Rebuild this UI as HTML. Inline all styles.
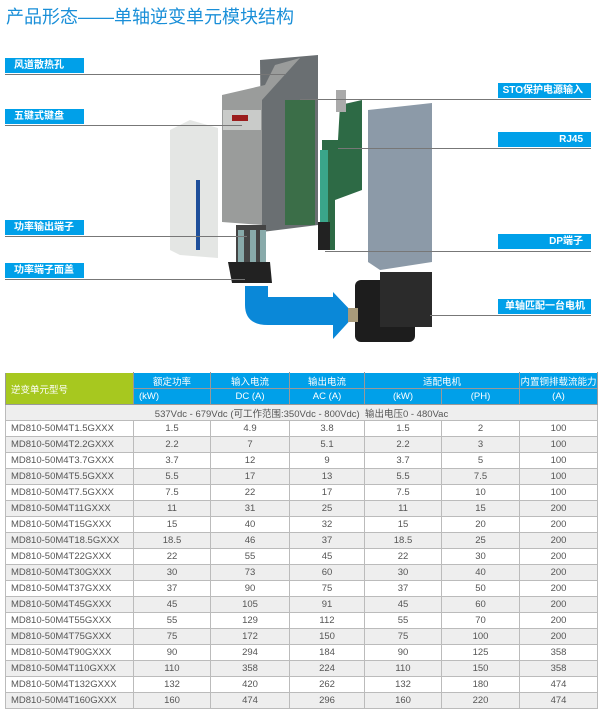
<!DOCTYPE html>
<html><head><meta charset="utf-8"><style>
body{margin:0;width:601px;height:715px;background:#fff;overflow:hidden;position:relative;font-family:"Liberation Sans","Noto Sans CJK SC",sans-serif}
.t{position:absolute;left:6px;top:3px;font-size:18px;color:#1a8fd8;letter-spacing:0px}
.lb{position:absolute;height:15px;background:#00a0e9;color:#fff;font-size:10px;line-height:15px;font-weight:bold}
.ln{position:absolute;height:1px;background:#777}
table{position:absolute;left:5px;top:372px;border-collapse:collapse;font-size:9.5px;color:#555;table-layout:fixed}
td{border:1px solid #bbb;height:15px;padding:0;text-align:center;white-space:nowrap;overflow:hidden}
td:first-child{text-align:left;padding-left:5px}
tr.h td{background:#00a0e9;color:#fff;border-color:#fff #999 #999 #999;height:15px}
tr.g td{background:#eee}
</style></head><body>
<div class="t">产品形态——单轴逆变单元模块结构</div>
<svg width="601" height="360" style="position:absolute;left:0;top:0">
<path d="M245 286 H268 V297 H333 V292 L355 315 L333 339 V325 H268 Q245 325 245 305 Z" fill="#0a88d8"/>
<polygon points="368,110 432,103 432,262 380,270 368,262" fill="#8c9aa8"/>
<polygon points="322,140 338,140 340,105 362,100 362,190 335,200 335,250 322,250" fill="#2d6a45"/>
<rect x="320" y="150" width="8" height="90" fill="#3aa58a"/>
<rect x="318" y="222" width="12" height="28" fill="#222"/>
<rect x="336" y="90" width="10" height="22" fill="#aaa"/>
<polygon points="260,60 318,55 318,225 262,232" fill="#6a6f72"/>
<rect x="285" y="100" width="30" height="125" fill="#3b6e48"/>
<polygon points="222,95 265,85 275,65 300,58 262,100 262,225 222,222" fill="#9a9c9b"/>
<rect x="223" y="110" width="38" height="20" fill="#c9cbc9"/>
<rect x="232" y="115" width="16" height="6" fill="#9b1d1d"/>
<polygon points="170,130 190,120 218,128 218,258 180,255 170,250" fill="#e4e6e4"/>
<rect x="196" y="180" width="4" height="70" fill="#1e4f9a"/>
<rect x="236" y="225" width="30" height="40" fill="#444"/>
<rect x="238" y="230" width="6" height="35" fill="#8aa"/><rect x="250" y="230" width="6" height="35" fill="#8aa"/><rect x="260" y="230" width="6" height="35" fill="#8aa"/>
<polygon points="228,262 270,262 272,283 232,283" fill="#222"/>
<rect x="355" y="280" width="60" height="62" rx="6" fill="#1d1d1d"/>
<rect x="380" y="272" width="52" height="55" fill="#2b2b2b"/>
<rect x="348" y="308" width="10" height="14" fill="#a89a7a"/>
</svg>
<div class="lb" style="left:5px;top:58px;width:79px;padding-left:9px;box-sizing:border-box">风道散热孔</div>
<div class="ln" style="left:5px;top:74px;width:280px"></div>
<div class="lb" style="left:5px;top:109px;width:79px;padding-left:9px;box-sizing:border-box">五键式键盘</div>
<div class="ln" style="left:5px;top:125px;width:237px"></div>
<div class="lb" style="left:5px;top:220px;width:79px;padding-left:9px;box-sizing:border-box">功率输出端子</div>
<div class="ln" style="left:5px;top:236px;width:242px"></div>
<div class="lb" style="left:5px;top:263px;width:79px;padding-left:9px;box-sizing:border-box">功率端子面盖</div>
<div class="ln" style="left:5px;top:279px;width:240px"></div>
<div class="lb" style="left:498px;top:83px;width:93px;text-align:right;padding-right:8px;box-sizing:border-box">STO保护电源输入</div>
<div class="ln" style="left:300px;top:99px;width:291px"></div>
<div class="lb" style="left:498px;top:132px;width:93px;text-align:right;padding-right:8px;box-sizing:border-box">RJ45</div>
<div class="ln" style="left:338px;top:148px;width:253px"></div>
<div class="lb" style="left:498px;top:234px;width:93px;text-align:right;padding-right:8px;box-sizing:border-box">DP端子</div>
<div class="ln" style="left:325px;top:251px;width:266px"></div>
<div class="lb" style="left:498px;top:299px;width:93px;text-align:right;padding-right:6px;box-sizing:border-box">单轴匹配一台电机</div>
<div class="ln" style="left:430px;top:315px;width:161px"></div>
<table>
<colgroup><col style="width:128px"><col style="width:77px"><col style="width:79px"><col style="width:75px"><col style="width:77px"><col style="width:78px"><col style="width:78px"></colgroup>
<tr class="h"><td rowspan="2" style="background:#a7c81f;vertical-align:middle">逆变单元型号</td><td>额定功率</td><td>输入电流</td><td>输出电流</td><td colspan="2">适配电机</td><td>内置铜排载流能力</td></tr>
<tr class="h"><td>(kW)</td><td>DC (A)</td><td>AC (A)</td><td>(kW)</td><td>(PH)</td><td>(A)</td></tr>
<tr class="g"><td colspan="7" style="text-align:center;padding:0">537Vdc - 679Vdc (可工作范围:350Vdc - 800Vdc)&nbsp;&nbsp;输出电压0 - 480Vac</td></tr>
<tr><td>MD810-50M4T1.5GXXX</td><td>1.5</td><td>4.9</td><td>3.8</td><td>1.5</td><td>2</td><td>100</td></tr>
<tr class="g"><td>MD810-50M4T2.2GXXX</td><td>2.2</td><td>7</td><td>5.1</td><td>2.2</td><td>3</td><td>100</td></tr>
<tr><td>MD810-50M4T3.7GXXX</td><td>3.7</td><td>12</td><td>9</td><td>3.7</td><td>5</td><td>100</td></tr>
<tr class="g"><td>MD810-50M4T5.5GXXX</td><td>5.5</td><td>17</td><td>13</td><td>5.5</td><td>7.5</td><td>100</td></tr>
<tr><td>MD810-50M4T7.5GXXX</td><td>7.5</td><td>22</td><td>17</td><td>7.5</td><td>10</td><td>100</td></tr>
<tr class="g"><td>MD810-50M4T11GXXX</td><td>11</td><td>31</td><td>25</td><td>11</td><td>15</td><td>200</td></tr>
<tr><td>MD810-50M4T15GXXX</td><td>15</td><td>40</td><td>32</td><td>15</td><td>20</td><td>200</td></tr>
<tr class="g"><td>MD810-50M4T18.5GXXX</td><td>18.5</td><td>46</td><td>37</td><td>18.5</td><td>25</td><td>200</td></tr>
<tr><td>MD810-50M4T22GXXX</td><td>22</td><td>55</td><td>45</td><td>22</td><td>30</td><td>200</td></tr>
<tr class="g"><td>MD810-50M4T30GXXX</td><td>30</td><td>73</td><td>60</td><td>30</td><td>40</td><td>200</td></tr>
<tr><td>MD810-50M4T37GXXX</td><td>37</td><td>90</td><td>75</td><td>37</td><td>50</td><td>200</td></tr>
<tr class="g"><td>MD810-50M4T45GXXX</td><td>45</td><td>105</td><td>91</td><td>45</td><td>60</td><td>200</td></tr>
<tr><td>MD810-50M4T55GXXX</td><td>55</td><td>129</td><td>112</td><td>55</td><td>70</td><td>200</td></tr>
<tr class="g"><td>MD810-50M4T75GXXX</td><td>75</td><td>172</td><td>150</td><td>75</td><td>100</td><td>200</td></tr>
<tr><td>MD810-50M4T90GXXX</td><td>90</td><td>294</td><td>184</td><td>90</td><td>125</td><td>358</td></tr>
<tr class="g"><td>MD810-50M4T110GXXX</td><td>110</td><td>358</td><td>224</td><td>110</td><td>150</td><td>358</td></tr>
<tr><td>MD810-50M4T132GXXX</td><td>132</td><td>420</td><td>262</td><td>132</td><td>180</td><td>474</td></tr>
<tr class="g"><td>MD810-50M4T160GXXX</td><td>160</td><td>474</td><td>296</td><td>160</td><td>220</td><td>474</td></tr>
</table>
</body></html>
